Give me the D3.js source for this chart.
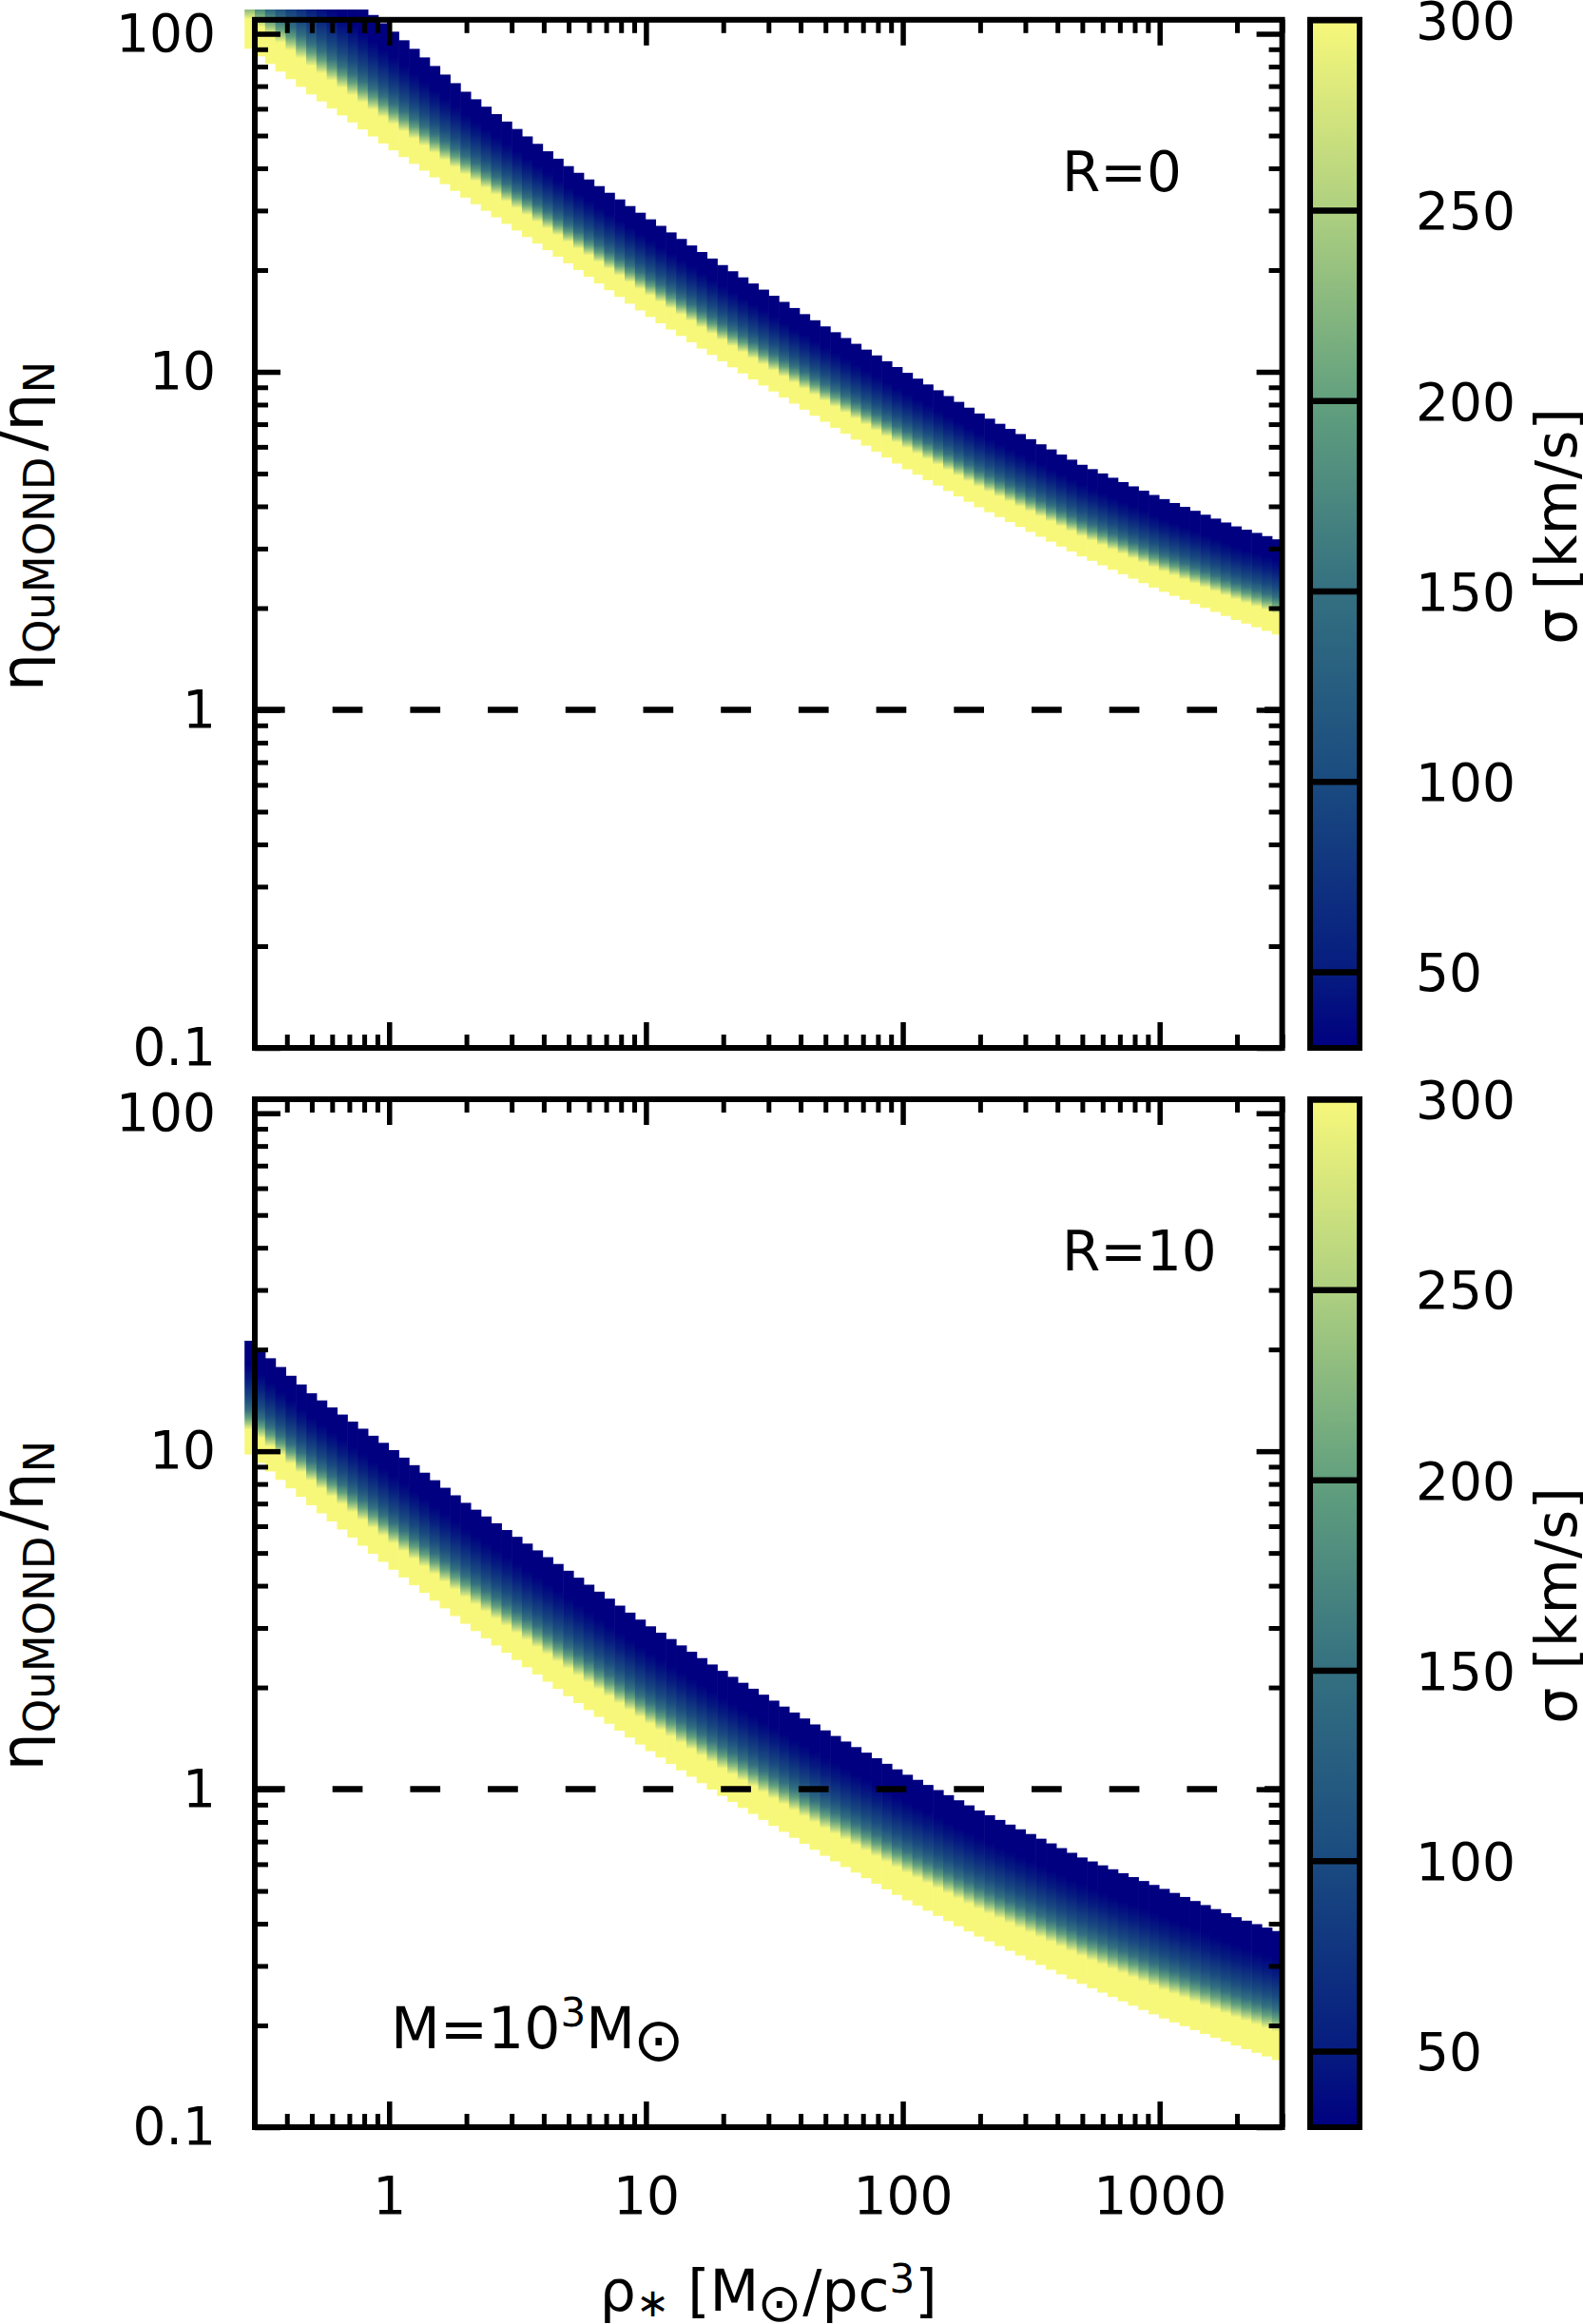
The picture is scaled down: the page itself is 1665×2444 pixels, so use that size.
<!DOCTYPE html>
<html>
<head>
<meta charset="utf-8">
<script src="https://cdn.jsdelivr.net/npm/d3@7"></script>
<style>
    body { margin: 0; background: #fff; }
    svg { display: block; }
    text { font-family: "DejaVu Sans", sans-serif; fill: #000; }
</style>
</head>
<body>
<svg width="1665" height="2444"></svg>
<script>
window.onload = main;

var rhoPts = [0.3, 0.5, 1, 2, 5, 10, 20, 50, 100, 200, 500, 1000, 2000, 3000];

// R=0 : upper edge (lowest sigma) and lower edge (highest sigma) of the band
var topR0 = [219, 159, 104, 67, 40.5, 28.8, 20.6, 13.6, 10.1, 7.5, 5.3, 4.25, 3.48, 3.16];
var botR0 = [88, 66, 46.1, 32.6, 20.9, 14.8, 10.7, 7.1, 5.23, 3.96, 2.84, 2.26, 1.84, 1.65];
var capR0 = 118; // band is cut flat here

// R=10
var topR10 = [20.6, 14.8, 10.3, 7.0, 4.42, 3.09, 2.23, 1.49, 1.12, 0.862, 0.627, 0.513, 0.417, 0.376];
var botR10 = [9.5, 6.9, 4.56, 3.07, 1.88, 1.32, 0.951, 0.634, 0.476, 0.365, 0.265, 0.212, 0.174, 0.156];

// sigma across one column, from its bottom (0) to its top (1)
var bandFrac = [0, 0.22, 0.265, 0.32, 0.39, 0.49, 0.66, 0.786, 1];
var bandSigma = [300, 300, 250, 200, 150, 100, 50, 30, 30];

// colour map of the colorbar
var cmapSigma = [30, 50, 100, 150, 200, 250, 300];
var cmapColor = ["#000080", "#061c80", "#1a4b80", "#347080", "#62a07e", "#aed080", "#f7f87a"];

var xTicks = [1, 10, 100, 1000];
var yTicks = [0.1, 1, 10, 100];
var cbTicks = [50, 100, 150, 200, 250, 300];

// mesh: 101 columns of 0.04 dex
var nCols = 101, colStep = 0.04;

function main() {
    var svg = d3.select("svg");
    var defs = svg.append("defs");

    var left = 268, right = 1348.6;
    var x = d3.scaleLog().domain([0.3, 3000]).range([left, right]);
    var cmap = d3.scaleLinear().domain(cmapSigma).range(cmapColor).clamp(true);

    var isMajor = (v) => Math.abs(Math.log10(v) - Math.round(Math.log10(v))) < 1e-6;
    var xMinor = x.ticks().filter((v) => !isMajor(v));

    // gradient drawn in every column
    var band = defs.append("linearGradient").attr("id", "band")
        .attr("x1", 0).attr("y1", 1).attr("x2", 0).attr("y2", 0);
    band.selectAll("stop").data(bandFrac).enter().append("stop")
        .attr("offset", (d) => d)
        .attr("stop-color", (d, i) => cmap(bandSigma[i]));

    var cbar = defs.append("linearGradient").attr("id", "cbar")
        .attr("x1", 0).attr("y1", 1).attr("x2", 0).attr("y2", 0);
    cbar.selectAll("stop").data(cmapSigma).enter().append("stop")
        .attr("offset", (d) => (d - 30) / 270)
        .attr("stop-color", (d, i) => cmapColor[i]);

    var logLo = Math.log10(0.3) - colStep;
    var cols = d3.range(nCols).map((i) => logLo + i * colStep);
    var lx = rhoPts.map(Math.log10);

    var panels = [
        { top: topR0, bot: botR0, cap: capR0, y0: 20.8, y1: 1102, text: "R=0", textY: 201 },
        { top: topR10, bot: botR10, cap: null, y0: 1156, y1: 2237, text: "R=10", textY: 1336 },
    ];

    panels.forEach(function (p, pi) {
        var y = d3.scaleLog().domain([0.1, 110]).range([p.y1, p.y0]);
        var yMinor = y.ticks().filter((v) => !isMajor(v));
        var topS = d3.scaleLinear().domain(lx).range(p.top.map(Math.log10));
        var botS = d3.scaleLinear().domain(lx).range(p.bot.map(Math.log10));
        var mid = (p.y0 + p.y1) / 2;
        var g = svg.append("g");

        // data columns
        var clipTop = p.cap ? y(p.cap) : p.y0 - 40;
        var x0 = x(Math.pow(10, logLo));
        defs.append("clipPath").attr("id", "clip" + pi)
            .append("rect")
            .attr("x", x0 - 2).attr("y", clipTop)
            .attr("width", right - x0 + 2).attr("height", p.y1 - clipTop);

        g.append("g").attr("clip-path", "url(#clip" + pi + ")")
            .selectAll("rect").data(cols).enter().append("rect")
            .attr("x", (d) => x(Math.pow(10, d)))
            .attr("width", (d) => x(Math.pow(10, d + colStep)) - x(Math.pow(10, d)) + 0.6)
            .attr("y", (d) => y(Math.pow(10, topS(d + colStep / 2))))
            .attr("height", (d) => y(Math.pow(10, botS(d + colStep / 2))) - y(Math.pow(10, topS(d + colStep / 2))))
            .attr("fill", "url(#band)");

        // eta = 1 reference
        g.append("line")
            .attr("x1", left).attr("x2", right)
            .attr("y1", y(1)).attr("y2", y(1))
            .attr("stroke", "#000").attr("stroke-width", 6.5)
            .attr("stroke-dasharray", "31.7,50");

        // ticks
        function style(sel, w, size) {
            sel.select(".domain").remove();
            sel.selectAll(".tick line").attr("stroke", "#000").attr("stroke-width", w);
            sel.selectAll(".tick text").attr("font-size", size).attr("font-family", "DejaVu Sans").attr("fill", "#000");
        }
        var last = pi === panels.length - 1;
        g.append("g").attr("transform", "translate(0," + p.y1 + ")")
            .call(d3.axisBottom(x).tickValues(xTicks).tickSize(-27).tickPadding(52)
                .tickFormat(last ? d3.format("~g") : () => ""))
            .call(style, 5.5, 55);
        g.append("g").attr("transform", "translate(0," + p.y1 + ")")
            .call(d3.axisBottom(x).tickValues(xMinor).tickSize(-14).tickFormat(""))
            .call(style, 5, 55);
        g.append("g").attr("transform", "translate(0," + p.y0 + ")")
            .call(d3.axisTop(x).tickValues(xTicks).tickSize(-27).tickFormat(""))
            .call(style, 5.5, 55);
        g.append("g").attr("transform", "translate(0," + p.y0 + ")")
            .call(d3.axisTop(x).tickValues(xMinor).tickSize(-14).tickFormat(""))
            .call(style, 5, 55);
        g.append("g").attr("transform", "translate(" + left + ",0)")
            .call(d3.axisLeft(y).tickValues(yTicks).tickSize(-27).tickPadding(41).tickFormat(d3.format("~g")))
            .call(style, 5.5, 55);
        g.append("g").attr("transform", "translate(" + left + ",0)")
            .call(d3.axisLeft(y).tickValues(yMinor).tickSize(-14).tickFormat(""))
            .call(style, 5, 55);
        g.append("g").attr("transform", "translate(" + right + ",0)")
            .call(d3.axisRight(y).tickValues(yTicks).tickSize(-27).tickFormat(""))
            .call(style, 5.5, 55);
        g.append("g").attr("transform", "translate(" + right + ",0)")
            .call(d3.axisRight(y).tickValues(yMinor).tickSize(-14).tickFormat(""))
            .call(style, 5, 55);

        // frame
        g.append("rect")
            .attr("x", left).attr("y", p.y0)
            .attr("width", right - left).attr("height", p.y1 - p.y0)
            .attr("fill", "none").attr("stroke", "#000").attr("stroke-width", 6);

        g.append("text")
            .attr("x", 1117).attr("y", p.textY)
            .attr("font-size", 58)
            .text(p.text);

        // y label
        var yl = g.append("text")
            .attr("transform", "translate(45," + (mid - 8) + ") rotate(-90)")
            .attr("text-anchor", "middle")
            .attr("font-size", 63);
        yl.append("tspan").text("η");
        yl.append("tspan").attr("font-size", 45).attr("dy", 12).text("QuMOND");
        yl.append("tspan").attr("dy", -12).attr("dx", 6).text("/η");
        yl.append("tspan").attr("font-size", 45).attr("dy", 12).text("N");

        // colorbar
        var cb = d3.scaleLinear().domain([30, 300]).range([p.y1, p.y0]);
        var cbl = 1378, cbw = 52;
        g.append("rect")
            .attr("x", cbl).attr("y", p.y0)
            .attr("width", cbw).attr("height", p.y1 - p.y0)
            .attr("fill", "url(#cbar)");
        g.append("g").attr("transform", "translate(" + (cbl + cbw) + ",0)")
            .call(d3.axisRight(cb).tickValues(cbTicks).tickSize(-cbw).tickPadding(59))
            .call(style, 6.5, 55)
            .selectAll(".tick text").attr("dy", "0.36em");
        g.append("rect")
            .attr("x", cbl).attr("y", p.y0)
            .attr("width", cbw).attr("height", p.y1 - p.y0)
            .attr("fill", "none").attr("stroke", "#000").attr("stroke-width", 6);
        g.append("text")
            .attr("transform", "translate(1658," + (mid - 8) + ") rotate(-90)")
            .attr("text-anchor", "middle")
            .attr("font-size", 60)
            .text("σ [km/s]");
    });

    // mass annotation in the lower panel
    var m = svg.append("text").attr("x", 411).attr("y", 2154).attr("font-size", 60);
    m.append("tspan").text("M=10");
    m.append("tspan").attr("font-size", 42).attr("dy", -23).text("3");
    m.append("tspan").attr("dy", 23).text("M");
    m.append("tspan").attr("font-size", 64).attr("dy", 13).attr("dx", -2).text("⊙");

    // x label
    var xl = svg.append("text")
        .attr("x", (left + right) / 2).attr("y", 2430)
        .attr("text-anchor", "middle")
        .attr("font-size", 60);
    xl.append("tspan").text("ρ");
    xl.append("tspan").attr("font-size", 42).attr("dy", 6).text("∗");
    xl.append("tspan").attr("dy", -6).text(" [M");
    xl.append("tspan").attr("font-size", 56).attr("dy", 11).attr("dx", -2).text("⊙");
    xl.append("tspan").attr("dy", -11).attr("dx", 1).text("/pc");
    xl.append("tspan").attr("font-size", 42).attr("dy", -19).text("3");
    xl.append("tspan").attr("dy", 19).text("]");
}
</script>
</body>
</html>
